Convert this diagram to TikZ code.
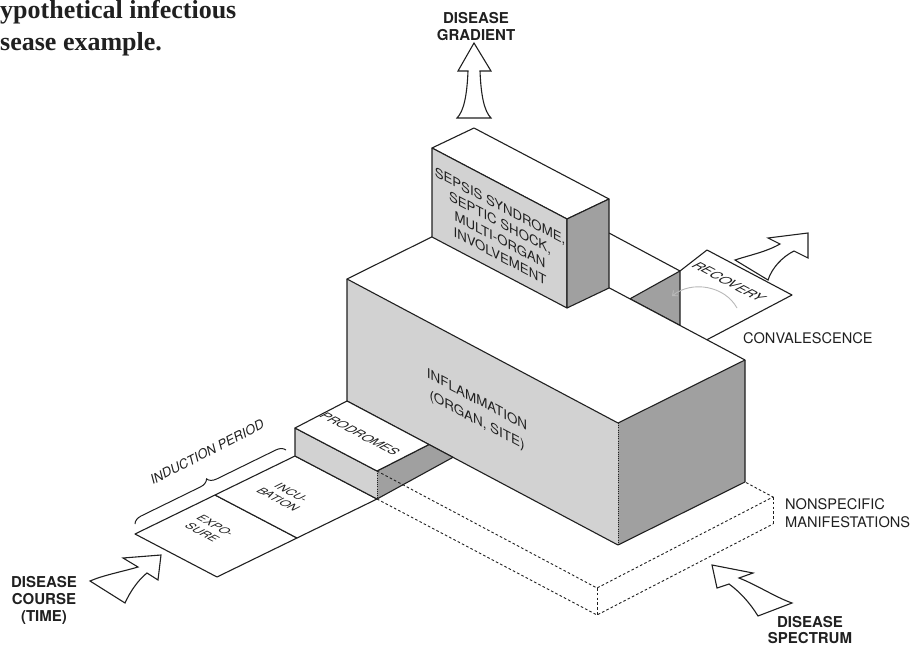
\documentclass[tikz,border=0pt]{standalone}
\usepackage{fontspec}
\setmainfont{Liberation Serif}
\newfontfamily\heros{TeX Gyre Heros}
\usetikzlibrary{decorations.pathreplacing,arrows.meta}
\definecolor{ink}{HTML}{202020}
\definecolor{lightface}{HTML}{D2D2D2}
\definecolor{darkface}{HTML}{A0A0A0}
\begin{document}
\begin{tikzpicture}[x=1pt,y=-1pt,
  edge/.style={draw=ink, line width=1.1pt, line join=round},
  topface/.style={edge, fill=white},
  frontface/.style={edge, fill=lightface},
  sideface/.style={edge, fill=darkface},
  dotedge/.style={draw=ink, line width=0.9pt, dash pattern=on 1pt off 1.2pt},
  slabedge/.style={draw=ink, line width=0.9pt, dash pattern=on 2.6pt off 2.2pt},
  hollow/.style={draw=ink, fill=white, line width=1.1pt, line join=miter},
  lbl/.style={inner sep=0pt, text=ink},
  bigbold/.style={lbl, align=center, font=\heros\bfseries\fontsize{15}{17}\selectfont},
  plain/.style={lbl, font=\heros\fontsize{14.6}{18}\selectfont},
  topface text/.style={lbl, cm={0.884,-0.468,0.893,0.45,(0,0)}}
]
\useasboundingbox (0,0) rectangle (916,647);

% ---------- key points ----------
% inflammation block
\coordinate (iFLt) at (347,279);
\coordinate (iFRt) at (618,423);
\coordinate (iBRt) at (745,360);
\coordinate (iBLt) at (474,216);
\coordinate (iFLb) at (347,401);
\coordinate (iFRb) at (618,545);
\coordinate (iBRb) at (745,482);
% sepsis block
\coordinate (sFLt) at (432,148);
\coordinate (sBLt) at (474,128);
\coordinate (sBRt) at (609,199);
\coordinate (sFRt) at (567,219);
\coordinate (sFLb) at (432,237);
\coordinate (sFRb) at (567,308);
\coordinate (sBRb) at (609,288);
% step behind sepsis and recovery panel
\coordinate (stA) at (609,233);
\coordinate (stB) at (680,271);
\coordinate (stC) at (630,298.8);
\coordinate (stD) at (680,325.4);
\coordinate (rA) at (707,250);
\coordinate (rB) at (792,295);
\coordinate (rC) at (707,339.7);
% prodromes
\coordinate (pFLt) at (295,428);
\coordinate (pBLt) at (347,401);
\coordinate (pBRt) at (429,444.5);
\coordinate (pFRt) at (377,471);
\coordinate (pFLb) at (295,456);
\coordinate (pFRb) at (377,499);
\coordinate (shE) at (453,457.3);
% exposure / incubation
\coordinate (inA) at (215,495);
\coordinate (inD) at (297,538);
\coordinate (exA) at (135,534);
\coordinate (exD) at (217,577);
% nonspecific slab
\coordinate (slA) at (597,588);
\coordinate (slB) at (597,615);
\coordinate (slC) at (773,497);
\coordinate (slD) at (773,524);

% ---------- flat panels ----------
\draw[topface] (exA) -- (inA) -- (inD) -- (exD) -- cycle;
\draw[topface] (inA) -- (pFLb) -- (pFRb) -- (inD) -- cycle;

% ---------- behind the inflammation: step and recovery ----------
\fill[white] (stB) -- (rA) -- (rB) -- (rC) -- (stD) -- cycle;
\draw[edge] (stB) -- (rA) -- (rB) -- (rC);
\draw[edge] (stA) -- (stB);
\draw[sideface] (stC) -- (stB) -- (stD) -- cycle;

% ---------- inflammation ----------
\fill[lightface] (iFLt) -- (iFRt) -- (iFRb) -- (iFLb) -- cycle;
\fill[darkface] (iFRt) -- (iBRt) -- (iBRb) -- (iFRb) -- cycle;
\draw[topface] (iFLt) -- (iBLt) -- (iBRt) -- (iFRt) -- cycle;
\draw[edge] (iFLt) -- (iFLb) -- (iFRb) -- (iBRb) -- (iBRt);
\draw[dotedge] (iFRt) -- (iFRb);

% ---------- sepsis ----------
\draw[topface] (sFLt) -- (sBLt) -- (sBRt) -- (sFRt) -- cycle;
\draw[frontface] (sFLt) -- (sFRt) -- (sFRb) -- (sFLb) -- cycle;
\draw[sideface] (sFRt) -- (sBRt) -- (sBRb) -- (sFRb) -- cycle;

% ---------- prodromes ----------
\fill[darkface] (pFRt) -- (pBRt) -- (shE) -- (pFRb) -- cycle;
\draw[edge] (pFRt) -- (pBRt) -- (shE) -- (pFRb);
\fill[lightface] (pFLt) -- (pFRt) -- (pFRb) -- (pFLb) -- cycle;
\draw[edge] (pFRt) -- (pFLt) -- (pFLb) -- (pFRb);
\draw[dotedge] (pFRt) -- (pFRb);
\draw[topface] (pFLt) -- (pBLt) -- (pBRt) -- (pFRt) -- cycle;

% ---------- nonspecific manifestations slab (dashed) ----------
\draw[slabedge] (pFRt) -- (slA) -- (slC) -- (iBRb);
\draw[slabedge] (pFRb) -- (slB) -- (slD);
\draw[slabedge] (slA) -- (slB);
\draw[slabedge] (slC) -- (slD);

% ---------- recovery curved hint ----------
\draw[gray!55, line width=0.9pt, -{Straight Barb[length=4pt,width=7pt]}]
  (737,308) .. controls (725,286) and (692,280) .. (672,296);

% ---------- hollow arrows ----------
\draw[hollow] (474,43) -- (491,71) -- (480,71)
  .. controls (481,95) and (484,111) .. (491,118) -- (457,118)
  .. controls (464,111) and (467,95) .. (468,71) -- (458,71) -- cycle;
\draw[hollow] (161,555) -- (123,558) -- (138,567)
  .. controls (121,572) and (104,575) .. (90,581) -- (125,603)
  .. controls (130,592) and (138,580) .. (147,573) -- (158,580) -- cycle;
\draw[hollow] (712,565) -- (753,573) -- (739,578)
  .. controls (757,585) and (775,597) .. (792,603) -- (758,616)
  .. controls (750,603) and (740,592) .. (729,584) -- (717,588) -- cycle;
\draw[hollow] (808,233) -- (768,238) -- (780,244)
  .. controls (766,252) and (750,255) .. (735,260) -- (768,280)
  .. controls (772,268) and (782,257) .. (794,251) -- (808,258) -- cycle;

% ---------- induction brace ----------
\draw[ink, line width=1pt, decorate, decoration={brace, amplitude=9pt}]
  (135,524) -- (286,450);

% ---------- texts ----------
\node[lbl, anchor=base west, font=\bfseries\fontsize{26}{32}\selectfont] (title1) at (0,19) {ypothetical infectious};
\node[lbl, anchor=base west, font=\bfseries\fontsize{26}{32}\selectfont] (title2) at (0,51) {sease example.};

\node[bigbold] (grad) at (476,27) {DISEASE\\GRADIENT};
\node[bigbold] (course) at (44,600) {DISEASE\\COURSE\\(TIME)};
\node[bigbold, font=\heros\bfseries\fontsize{15}{16}\selectfont] (spect) at (810,630) {DISEASE\\SPECTRUM};
\node[plain, anchor=base west] (conv) at (743,343) {CONVALESCENCE};
\node[plain, anchor=west, align=left] (nonspec) at (785,513) {NONSPECIFIC\\MANIFESTATIONS};

\node[lbl, yslant=-0.526, align=center, font=\heros\fontsize{13.2}{16.8}\selectfont] (sepsis) at (500,231)
  {SEPSIS SYNDROME,\\SEPTIC SHOCK,\\MULTI-ORGAN\\INVOLVEMENT};
\node[lbl, yslant=-0.531, align=center, font=\heros\fontsize{13.4}{20.5}\selectfont] (infl) at (477,411)
  {INFLAMMATION\\(ORGAN, SITE)};

\node[topface text, font=\heros\fontsize{13}{15}\selectfont] (prod) at (360,434) {PRODROMES};
\node[topface text, font=\heros\fontsize{14}{16}\selectfont] (recov) at (729,282) {RECOVERY};
\node[topface text, align=center, font=\heros\fontsize{12}{15}\selectfont] (expo) at (209,529) {EXPO-\\SURE};
\node[topface text, align=center, font=\heros\fontsize{12}{15}\selectfont] (incu) at (285,496) {INCU-\\BATION};

\node[lbl, rotate=27, font=\heros\itshape\fontsize{13}{15}\selectfont] (induct) at (207,452) {INDUCTION PERIOD};
\end{tikzpicture}
\end{document}
